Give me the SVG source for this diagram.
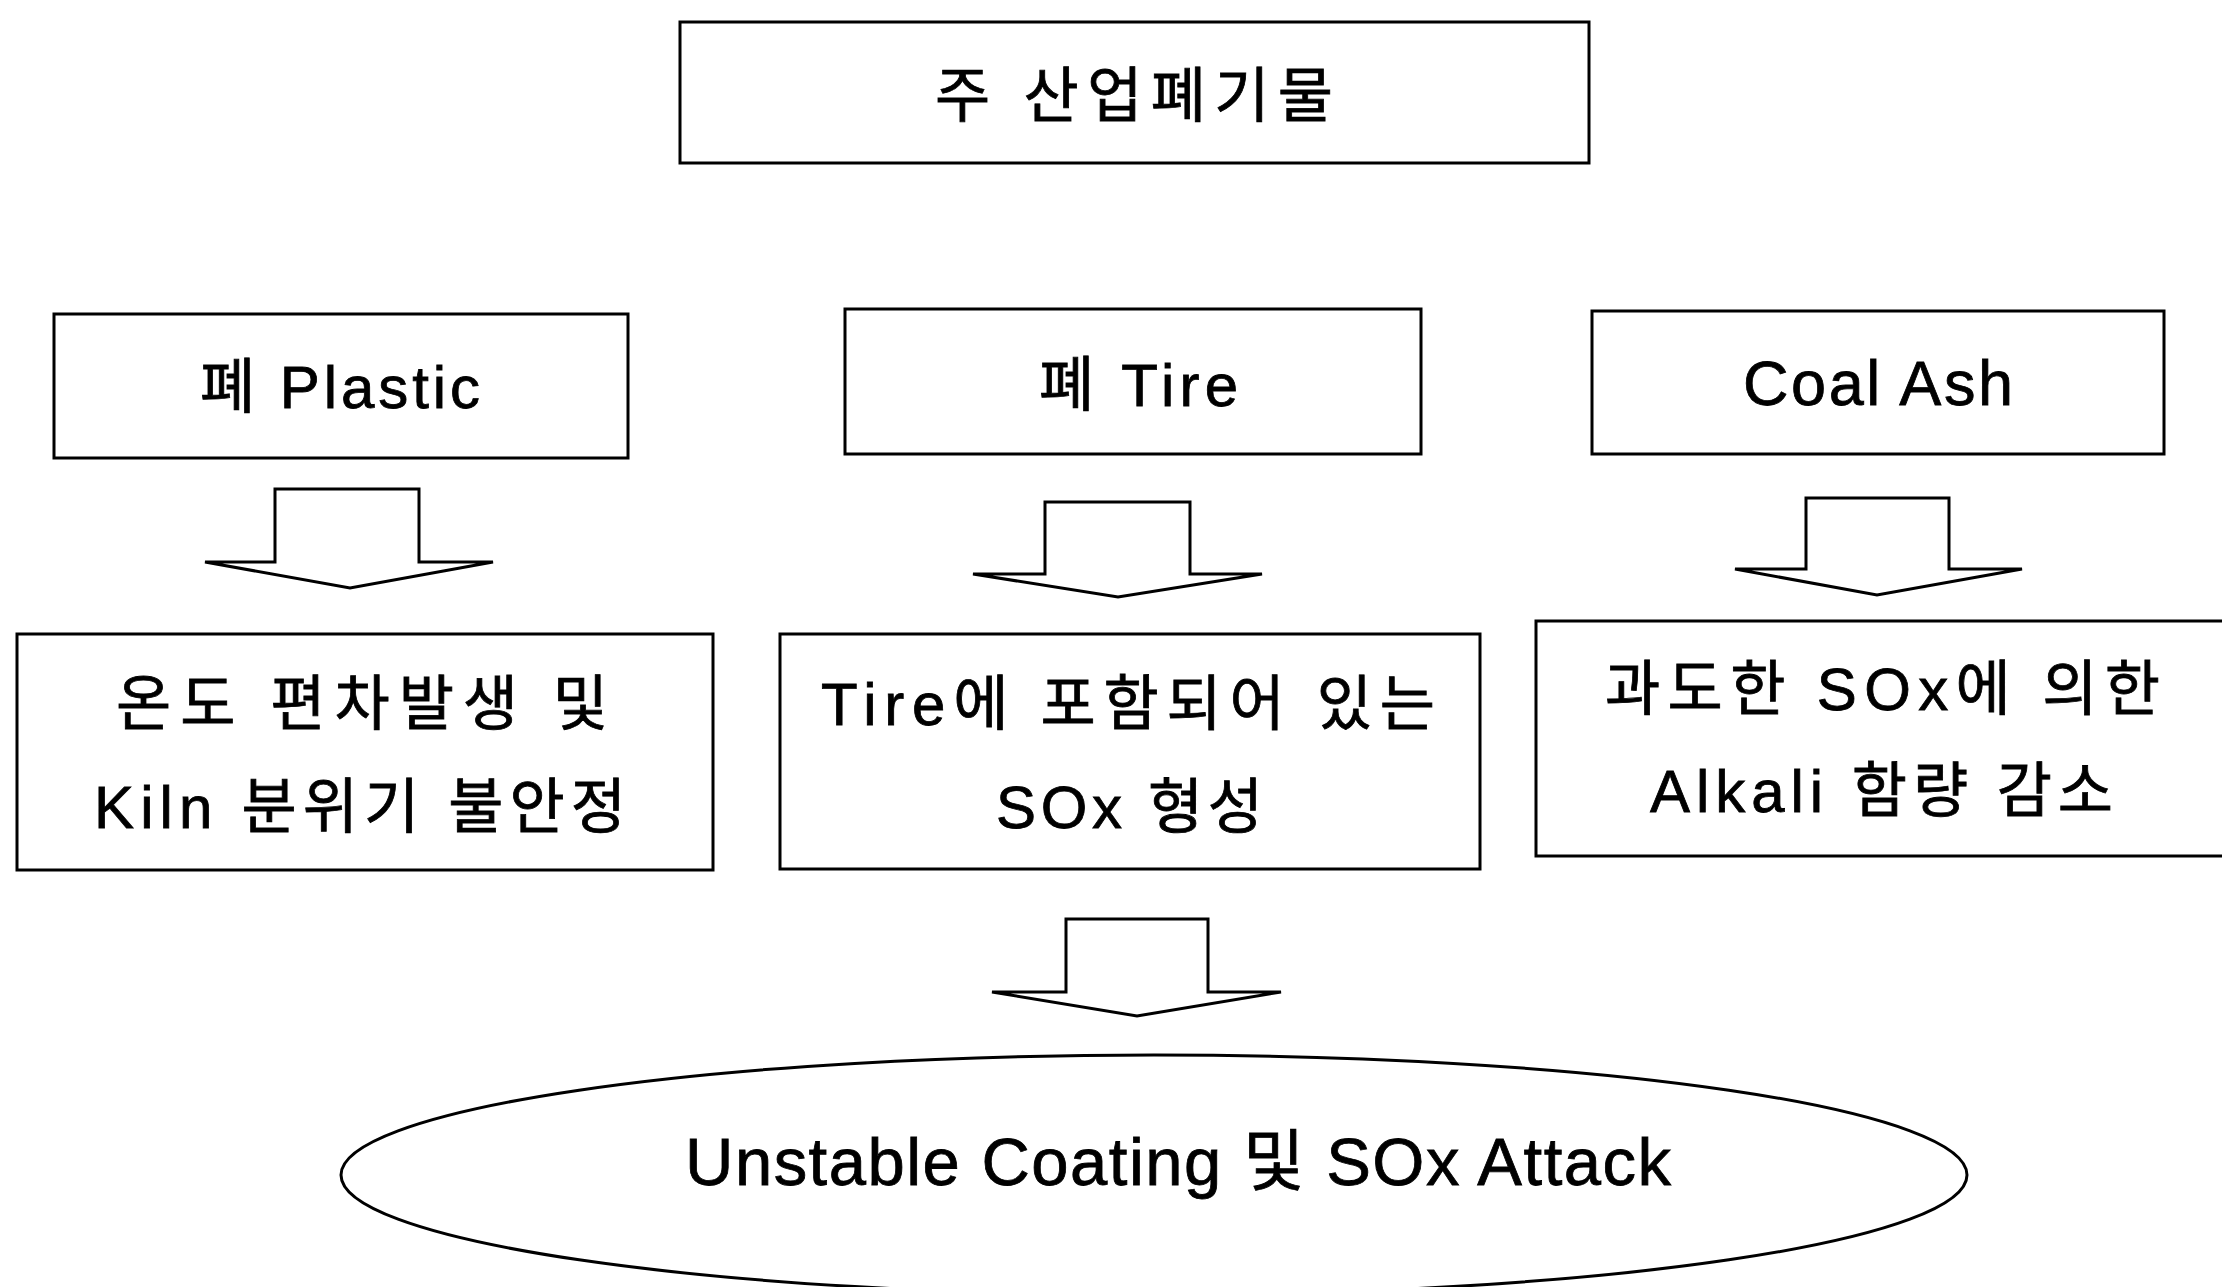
<svg xmlns="http://www.w3.org/2000/svg" width="2222" height="1287" viewBox="0 0 2222 1287">
<style>
.box{fill:#fff;stroke:#000;stroke-width:3}
.arr{fill:#fff;stroke:#000;stroke-width:3;stroke-linejoin:miter}
.t{font-family:"Liberation Sans","Noto Sans CJK KR",sans-serif;font-size:60px;fill:#000;stroke:#000;stroke-width:0.8}
</style>
<rect width="2222" height="1287" fill="#fff"/>
<g id="top">
<rect class="box" x="680" y="22" width="909" height="141"/>
<text class="t" x="935" y="117" textLength="398" lengthAdjust="spacing">주 산업폐기물</text>
</g>
<g id="plastic">
<rect class="box" x="54" y="314" width="574" height="144"/>
<text class="t" x="200" y="408" textLength="280" lengthAdjust="spacing">폐 Plastic</text>
</g>
<g id="tire">
<rect class="box" x="845" y="309" width="576" height="145"/>
<text class="t" x="1039" y="406" textLength="199" lengthAdjust="spacing">폐 Tire</text>
</g>
<g id="coal">
<rect class="box" x="1592" y="311" width="572" height="143"/>
<text class="t" x="1743" y="405" textLength="270" lengthAdjust="spacing" style="font-size:63px">Coal Ash</text>
</g>
<g id="plastic-effect">
<rect class="box" x="17" y="634" width="696" height="236"/>
<text class="t" x="116" y="725" textLength="492" lengthAdjust="spacing">온도 편차발생 및</text>
<text class="t" x="94" y="828" textLength="532" lengthAdjust="spacing">Kiln 분위기 불안정</text>
</g>
<g id="tire-effect">
<rect class="box" x="780" y="634" width="700" height="235"/>
<text class="t" x="821" y="725" textLength="614" lengthAdjust="spacing">Tire에 포함되어 있는</text>
<text class="t" x="996" y="828" textLength="267" lengthAdjust="spacing">SOx 형성</text>
</g>
<g id="coal-effect">
<rect class="box" x="1536" y="621" width="720" height="235"/>
<text class="t" x="1605" y="710" textLength="555" lengthAdjust="spacing">과도한 SOx에 의한</text>
<text class="t" x="1650" y="812" textLength="463" lengthAdjust="spacing">Alkali 함량 감소</text>
</g>
<g id="result">
<ellipse class="box" cx="1154" cy="1175" rx="813" ry="120"/>
<text class="t" x="685" y="1185" textLength="986" lengthAdjust="spacing" style="font-size:67px">Unstable Coating 및 SOx Attack</text>
</g>
<g id="connectors">
<polygon class="arr" points="275,489 419,489 419,562 493,562 350,588 205,562 275,562"/>
<polygon class="arr" points="1045,502 1190,502 1190,574 1262,574 1118,597 973,574 1045,574"/>
<polygon class="arr" points="1806,498 1949,498 1949,569 2022,569 1877,595 1735,569 1806,569"/>
<polygon class="arr" points="1066,919 1208,919 1208,992 1281,992 1137,1016 992,992 1066,992"/>
</g>
</svg>
